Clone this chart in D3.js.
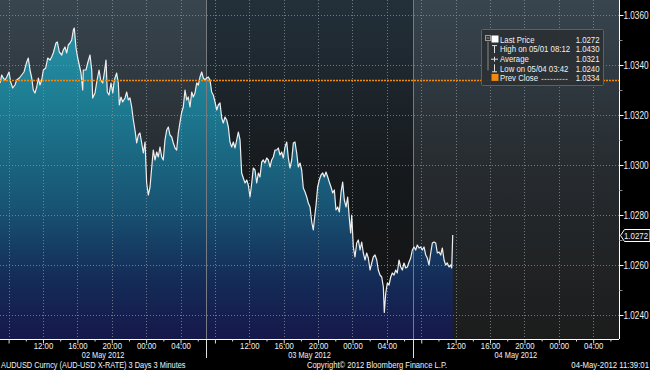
<!DOCTYPE html>
<html>
<head>
<meta charset="utf-8">
<script src="https://cdn.jsdelivr.net/npm/d3@7"></script>
<style>
  html, body { margin: 0; padding: 0; background: #000; }
  svg { display: block; }
  text { font-family: 'Liberation Sans', Arial, sans-serif; fill: #f2f2f2; }
</style>
</head>
<body>
<svg id="chart"></svg>
<script>
// sessions: each starts 07:00, 24h long
var sessionLabels = ["02 May 2012", "03 May 2012", "04 May 2012"];
var openTime = new Date(2012, 4, 2, 7, 0);

// hours since first session open (3 minute bars, thinned)
var hoursFromOpen = [
  0, 0.20, 0.38, 0.58, 0.78, 1.05, 1.24, 1.48, 1.74, 1.94, 2.25, 2.52, 2.79, 3.11, 3.29, 3.49, 3.69, 3.87, 4.07, 4.27,
  4.46, 4.65, 4.85, 5.04, 5.32, 5.55, 5.82, 6.01, 6.20, 6.51, 6.67, 6.90, 7.18, 7.36, 7.56, 7.76, 7.94, 8.14, 8.34, 8.53,
  8.64, 8.84, 9.04, 9.22, 9.42, 9.62, 9.69, 10.00, 10.20, 10.47, 10.67, 10.78, 11.05, 11.25, 11.52, 11.71, 11.95, 12.13, 12.33, 12.48,
  12.68, 12.91, 13.12, 13.30, 13.57, 13.76, 13.88, 14.07, 14.27, 14.54, 14.74, 14.92, 15.12, 15.32, 15.51, 15.70, 15.90, 16.09, 16.28, 16.48,
  16.67, 16.87, 17.06, 17.25, 17.45, 17.65, 17.83, 18.03, 18.23, 18.41, 18.61, 18.81, 18.99, 19.19, 19.39, 19.58, 19.77, 19.97, 20.16, 20.36,
  20.55, 20.74, 20.94, 21.14, 21.32, 21.52, 21.72, 21.90, 22.10, 22.30, 22.48, 22.68, 22.88, 23.07, 23.26, 23.46, 23.65, 23.85, 24.04, 24.23,
  24.43, 24.62, 24.81, 25.01, 25.21, 25.39, 25.59, 25.79, 25.97, 26.17, 26.37, 26.56, 26.75, 26.95, 27.14, 27.34, 27.53, 27.72, 27.92, 28.11,
  28.30, 28.50, 28.70, 28.88, 29.08, 29.28, 29.46, 29.66, 29.86, 30.05, 30.24, 30.44, 30.63, 30.82, 31.02, 31.21, 31.41, 31.60, 31.79, 31.99,
  32.19, 32.37, 32.57, 32.77, 32.95, 33.15, 33.35, 33.54, 33.73, 33.93, 34.12, 34.31, 34.51, 34.70, 34.90, 35.09, 35.28, 35.48, 35.68, 35.86,
  36.06, 36.26, 36.44, 36.56, 36.76, 36.95, 37.14, 37.34, 37.54, 37.72, 37.92, 38.12, 38.30, 38.50, 38.70, 38.89, 39.08, 39.28, 39.47, 39.67,
  39.86, 40.05, 40.25, 40.44, 40.63, 40.79, 40.91, 41.10, 41.29, 41.49, 41.68, 41.88, 42.07, 42.26, 42.46, 42.65, 42.84, 43.04, 43.24, 43.42,
  43.62, 43.82, 44.00, 44.20, 44.40, 44.59, 44.70, 44.87, 45.05, 45.25, 45.45, 45.63, 45.83, 46.03, 46.21, 46.41, 46.61, 46.80, 46.99, 47.19,
  47.38, 47.58, 47.77, 47.96, 48.16, 48.35, 48.54, 48.74, 48.94, 49.12, 49.32, 49.52, 49.70, 49.90, 50.10, 50.29, 50.48, 50.68, 50.87, 51.07,
  51.26, 51.45, 51.65, 51.84, 52.03, 52.23, 52.43, 52.54, 52.66
];
var prices = [
  1.03328, 1.0336, 1.03348, 1.0334, 1.03352, 1.03372, 1.03332, 1.03308, 1.0332, 1.0334, 1.03348, 1.0336, 1.03372, 1.03412, 1.03428, 1.0338, 1.03348, 1.033, 1.03288, 1.03312,
  1.03348, 1.0332, 1.0334, 1.0338, 1.03388, 1.03428, 1.0342, 1.03432, 1.03448, 1.03488, 1.03492, 1.03452, 1.0344, 1.0346, 1.03472, 1.03448, 1.0348, 1.03488, 1.035, 1.0354,
  1.03548, 1.03468, 1.03428, 1.034, 1.03368, 1.033, 1.0338, 1.0338, 1.03408, 1.0344, 1.0338, 1.03268, 1.03288, 1.03332, 1.0338, 1.0334, 1.03328, 1.03368, 1.0342, 1.03292,
  1.0328, 1.03328, 1.03288, 1.0334, 1.03368, 1.03328, 1.0324, 1.03272, 1.03252, 1.03268, 1.03292, 1.0326, 1.03268, 1.03232, 1.0318, 1.0314, 1.03088, 1.0312, 1.03128, 1.03088,
  1.03048, 1.03092, 1.02928, 1.0288, 1.02912, 1.02992, 1.0306, 1.0302, 1.03052, 1.03032, 1.03072, 1.03032, 1.0302, 1.031, 1.0314, 1.03152, 1.0312, 1.03112, 1.03088, 1.03068,
  1.0306, 1.03128, 1.03172, 1.03212, 1.03232, 1.033, 1.0326, 1.03272, 1.03232, 1.03292, 1.03272, 1.03288, 1.03328, 1.0332, 1.03352, 1.03372, 1.03348, 1.0334, 1.03348, 1.03352,
  1.0334, 1.03292, 1.0328, 1.03252, 1.0322, 1.0324, 1.03248, 1.03188, 1.03168, 1.03192, 1.0318, 1.03152, 1.03092, 1.03072, 1.03092, 1.03068, 1.031, 1.03132, 1.031, 1.02968,
  1.02948, 1.02928, 1.0294, 1.0292, 1.02872, 1.02928, 1.02988, 1.0298, 1.02928, 1.02968, 1.02952, 1.03012, 1.0302, 1.03008, 1.03028, 1.0302, 1.02992, 1.0302, 1.03032, 1.0306,
  1.0306, 1.03068, 1.0304, 1.03052, 1.03028, 1.03072, 1.03092, 1.03028, 1.02988, 1.0302, 1.03088, 1.03092, 1.03048, 1.02992, 1.03008, 1.0298, 1.02908, 1.02892, 1.02872, 1.02848,
  1.02832, 1.02772, 1.0274, 1.0278, 1.0284, 1.02912, 1.0294, 1.0296, 1.02968, 1.02952, 1.02972, 1.02952, 1.02932, 1.02912, 1.02888, 1.029, 1.0282, 1.02832, 1.02812, 1.02892,
  1.02932, 1.0286, 1.02832, 1.02872, 1.02788, 1.02728, 1.028, 1.02672, 1.02632, 1.02688, 1.027, 1.0266, 1.02692, 1.02648, 1.0262, 1.02648, 1.02628, 1.0258, 1.02608, 1.02632,
  1.0264, 1.0262, 1.0258, 1.0256, 1.02552, 1.02512, 1.0241, 1.02488, 1.02528, 1.0252, 1.02552, 1.02568, 1.0256, 1.0258, 1.02568, 1.0262, 1.02592, 1.0258, 1.02608, 1.02588,
  1.02592, 1.02612, 1.02628, 1.0266, 1.02672, 1.0266, 1.0268, 1.02668, 1.02672, 1.0266, 1.02672, 1.0264, 1.02628, 1.026, 1.02648, 1.02688, 1.02692, 1.02688, 1.02648, 1.02652,
  1.0264, 1.02668, 1.0262, 1.026, 1.02608, 1.02592, 1.026, 1.02588, 1.0272
];

var yTicks = [1.0240, 1.0260, 1.0280, 1.0300, 1.0320, 1.0340, 1.0360];
var yMinorTicks = [1.0250, 1.0270, 1.0290, 1.0310, 1.0330, 1.0350];
var prevClose = 1.0334;
var lastPrice = 1.0272;

var legendRows = [
  { icon: "square", label: "Last Price", value: "1.0272" },
  { icon: "high", label: "High on 05/01 08:12", value: "1.0430" },
  { icon: "avg", label: "Average", value: "1.0321" },
  { icon: "low", label: "Low on 05/04 03:42", value: "1.0240" },
  { icon: "prev", label: "Prev Close", value: "1.0334" }
];

var footLeft = "AUDUSD Curncy (AUD-USD X-RATE) 3 Days 3 Minutes";
var footMid = "Copyright\u00a9 2012 Bloomberg Finance L.P.";
var footRight = "04-May-2012 11:39:01";

var W = 650, H = 370;
var plotW = 619, plotH = 339;

var svg = d3.select("#chart").attr("width", W).attr("height", H);
svg.append("rect").attr("width", W).attr("height", H).attr("fill", "#000");

var hourMs = 3600 * 1000;
var data = hoursFromOpen.map(function (h, i) {
  return { t: new Date(+openTime + h * hourMs), v: prices[i] };
});
var sessionStarts = sessionLabels.map(function (d, i) {
  return new Date(+openTime + i * 24 * hourMs);
});
var endTime = new Date(+openTime + 72 * hourMs);

var x = d3.scaleTime().domain([openTime, endTime]).range([0, plotW]);
var y = d3.scaleLinear().domain([1.02304, 1.0366]).range([plotH, 0]);

// gradients
var defs = svg.append("defs");
function vGrad(id, stops) {
  var g = defs.append("linearGradient").attr("id", id)
    .attr("gradientUnits", "userSpaceOnUse")
    .attr("x1", 0).attr("y1", 0).attr("x2", 0).attr("y2", plotH);
  stops.forEach(function (s) {
    g.append("stop").attr("offset", s[0]).attr("stop-color", s[1]);
  });
}
vGrad("bgLight", [[0, "#38454f"], [0.5, "#262b2f"], [1, "#1c1c1c"]]);
vGrad("bgDark", [[0, "#23303a"], [0.5, "#161a1d"], [1, "#111111"]]);
vGrad("areaFill", [[0.05, "#2894a8"], [0.3, "#1d7c92"], [0.6, "#185574"], [0.82, "#142c58"], [1, "#16184a"]]);

// session backgrounds
svg.append("g").selectAll("rect")
  .data(sessionStarts)
  .enter()
  .append("rect")
  .attr("x", function (d) { return x(d); })
  .attr("y", 0)
  .attr("width", function (d) { return x(new Date(+d + 24 * hourMs)) - x(d); })
  .attr("height", plotH)
  .attr("fill", function (d, i) { return i % 2 == 0 ? "url(#bgLight)" : "url(#bgDark)"; });

// price area + line
var area = d3.area()
  .x(function (d) { return x(d.t); })
  .y0(plotH)
  .y1(function (d) { return y(d.v); });
var line = d3.line()
  .x(function (d) { return x(d.t); })
  .y(function (d) { return y(d.v); });

svg.append("path").datum(data).attr("d", area).attr("fill", "url(#areaFill)");

// grid
var grid = svg.append("g").attr("stroke", "#8c9399").attr("stroke-opacity", 0.75)
  .attr("stroke-dasharray", "1,2").attr("stroke-width", 1);
grid.selectAll("line.h")
  .data(yTicks)
  .enter()
  .append("line")
  .attr("x1", 0).attr("x2", plotW)
  .attr("y1", function (d) { return Math.round(y(d)) + 0.5; })
  .attr("y2", function (d) { return Math.round(y(d)) + 0.5; });
grid.selectAll("line.v")
  .data(x.ticks(d3.timeHour.every(4)))
  .enter()
  .append("line")
  .attr("y1", 0).attr("y2", plotH)
  .attr("x1", function (d) { return Math.round(x(d)) + 0.5; })
  .attr("x2", function (d) { return Math.round(x(d)) + 0.5; });

// session separators (grey in plot, white in axis band)
var seps = svg.append("g").selectAll("g")
  .data(sessionStarts.slice(1))
  .enter()
  .append("g")
  .attr("transform", function (d) { return "translate(" + (Math.round(x(d)) + 0.5) + ",0)"; });
seps.append("line").attr("y1", 0).attr("y2", plotH).attr("stroke", "#767b80");
seps.append("line").attr("y1", plotH).attr("y2", plotH + 19).attr("stroke", "#e0e0e0");

svg.append("path").datum(data).attr("d", line)
  .attr("fill", "none").attr("stroke", "#eeeeee").attr("stroke-width", 1.2)
  .attr("stroke-linejoin", "round");

// previous close
svg.append("line")
  .attr("x1", 0).attr("x2", plotW)
  .attr("y1", Math.round(y(prevClose)) + 0.5).attr("y2", Math.round(y(prevClose)) + 0.5)
  .attr("stroke", "#f28a10").attr("stroke-width", 1.4).attr("stroke-dasharray", "2,1");

// right axis
var yAxis = d3.axisRight(y).tickValues(yTicks).tickSize(4).tickPadding(0)
  .tickFormat(d3.format(".4f"));
var ya = svg.append("g").attr("transform", "translate(" + (plotW + 0.5) + ",0)").call(yAxis);
ya.select(".domain").attr("stroke", "#ffffff").attr("d", "M0,0V" + plotH);
ya.selectAll(".tick line").attr("stroke", "#ffffff");
ya.selectAll(".tick text").attr("font-size", 10).attr("fill", "#ffffff")
  .attr("font-family", null);
ya.selectAll(".minor")
  .data(yMinorTicks)
  .enter()
  .append("line")
  .attr("x1", 0).attr("x2", 3)
  .attr("y1", function (d) { return Math.round(y(d)) + 0.5; })
  .attr("y2", function (d) { return Math.round(y(d)) + 0.5; })
  .attr("stroke", "#8a8a8a");

// last price tag
var ly = Math.round(y(lastPrice)) + 0.5;
svg.append("path")
  .attr("d", "M" + (plotW + 1.5) + "," + ly + "L" + (plotW + 5.5) + "," + (ly - 6) + "H650V" + (ly + 6) + "H" + (plotW + 5.5) + "Z")
  .attr("fill", "#0c0c0c").attr("stroke", "#ffffff").attr("stroke-width", 1);
svg.append("text").attr("x", plotW + 5).attr("y", ly).attr("dy", "0.35em")
  .attr("font-size", 9.6).attr("fill", "#e8f0ff").text(d3.format(".4f")(lastPrice));

// bottom axis
var xAxis = d3.axisBottom(x).ticks(d3.timeHour.every(2))
  .tickSize(3).tickPadding(0)
  .tickFormat(function (d) {
    var h = d.getHours();
    return (h % 4 == 0 && h != 8) ? d3.timeFormat("%H:%M")(d) : "";
  });
var xa = svg.append("g").attr("transform", "translate(0," + (plotH + 0.5) + ")").call(xAxis);
xa.select(".domain").attr("stroke", "#ffffff").attr("d", "M0,0H" + plotW);
xa.selectAll(".tick line").attr("stroke", "#dddddd")
  .attr("y2", function (d) { return d.getHours() % 4 == 0 ? 4 : 2; });
xa.selectAll(".tick text").attr("font-size", 9.5).attr("fill", "#ffffff").attr("font-family", null);

svg.append("g").selectAll("text")
  .data(sessionLabels)
  .enter()
  .append("text")
  .attr("x", function (d, i) { return (x(sessionStarts[i]) + x(new Date(+sessionStarts[i] + 24 * hourMs))) / 2; })
  .attr("y", 358.5)
  .attr("text-anchor", "middle")
  .attr("font-size", 9)
  .text(function (d) { return d; });

// footer
svg.append("text").attr("x", 1).attr("y", 368.5).attr("font-size", 9).text(footLeft);
svg.append("text").attr("x", 377).attr("y", 368.5).attr("text-anchor", "middle").attr("font-size", 9.3).text(footMid);
svg.append("text").attr("x", 649).attr("y", 368.5).attr("text-anchor", "end").attr("font-size", 9.5).text(footRight);

// legend
var lg = svg.append("g").attr("transform", "translate(481.5,29.5)");
lg.append("rect").attr("width", 122).attr("height", 56).attr("rx", 1)
  .attr("fill", "#2a2f33").attr("fill-opacity", 0.95).attr("stroke", "#5c6166");
lg.append("rect").attr("x", 4).attr("y", 6).attr("width", 5).attr("height", 5)
  .attr("fill", "none").attr("stroke", "#9a9a9a");
lg.append("line").attr("x1", 5).attr("x2", 8).attr("y1", 8.5).attr("y2", 8.5).attr("stroke", "#9a9a9a");
lg.append("line").attr("x1", 6.5).attr("x2", 6.5).attr("y1", 12).attr("y2", 41).attr("stroke", "#8a8a8a");

var rowH = 9.6;
var rows = lg.selectAll("g.row")
  .data(legendRows)
  .enter()
  .append("g")
  .attr("transform", function (d, i) { return "translate(0," + (10 + i * rowH) + ")"; });
rows.append("text").attr("x", 18.5).attr("dy", "0.35em").attr("font-size", 9.5)
  .text(function (d) { return d.label; });
rows.append("text").attr("x", 118).attr("dy", "0.35em").attr("font-size", 9.5)
  .attr("text-anchor", "end").text(function (d) { return d.value; });
rows.each(function (d) {
  var g = d3.select(this);
  if (d.icon == "square") {
    g.append("rect").attr("x", 10).attr("y", -4).attr("width", 7).attr("height", 7).attr("fill", "#ffffff");
  } else if (d.icon == "prev") {
    g.append("rect").attr("x", 10).attr("y", -4).attr("width", 7).attr("height", 7).attr("fill", "#f28a10");
    g.append("line").attr("x1", 60).attr("x2", 86).attr("y1", 1.5).attr("y2", 1.5)
      .attr("stroke", "#bbbbbb").attr("stroke-dasharray", "2,1");
  } else if (d.icon == "high") {
    g.append("path").attr("d", "M10.5,-3.5H15.5M13,-3.5V4").attr("stroke", "#dddddd").attr("fill", "none");
  } else if (d.icon == "low") {
    g.append("path").attr("d", "M13,-4V3.5M10.5,3.5H15.5").attr("stroke", "#dddddd").attr("fill", "none");
  } else if (d.icon == "avg") {
    g.append("path").attr("d", "M9.5,0.5H16.5M13,-2V3").attr("stroke", "#dddddd").attr("fill", "none");
  }
});

// no narrow font installed: squeeze every label horizontally (about Arial Narrow width)
svg.selectAll("text").each(function () {
  var ax = +this.getAttribute("x") || 0;
  d3.select(this).attr("transform", "translate(" + ax + ",0) scale(0.82,1) translate(" + (-ax) + ",0)");
});
</script>
</body>
</html>
